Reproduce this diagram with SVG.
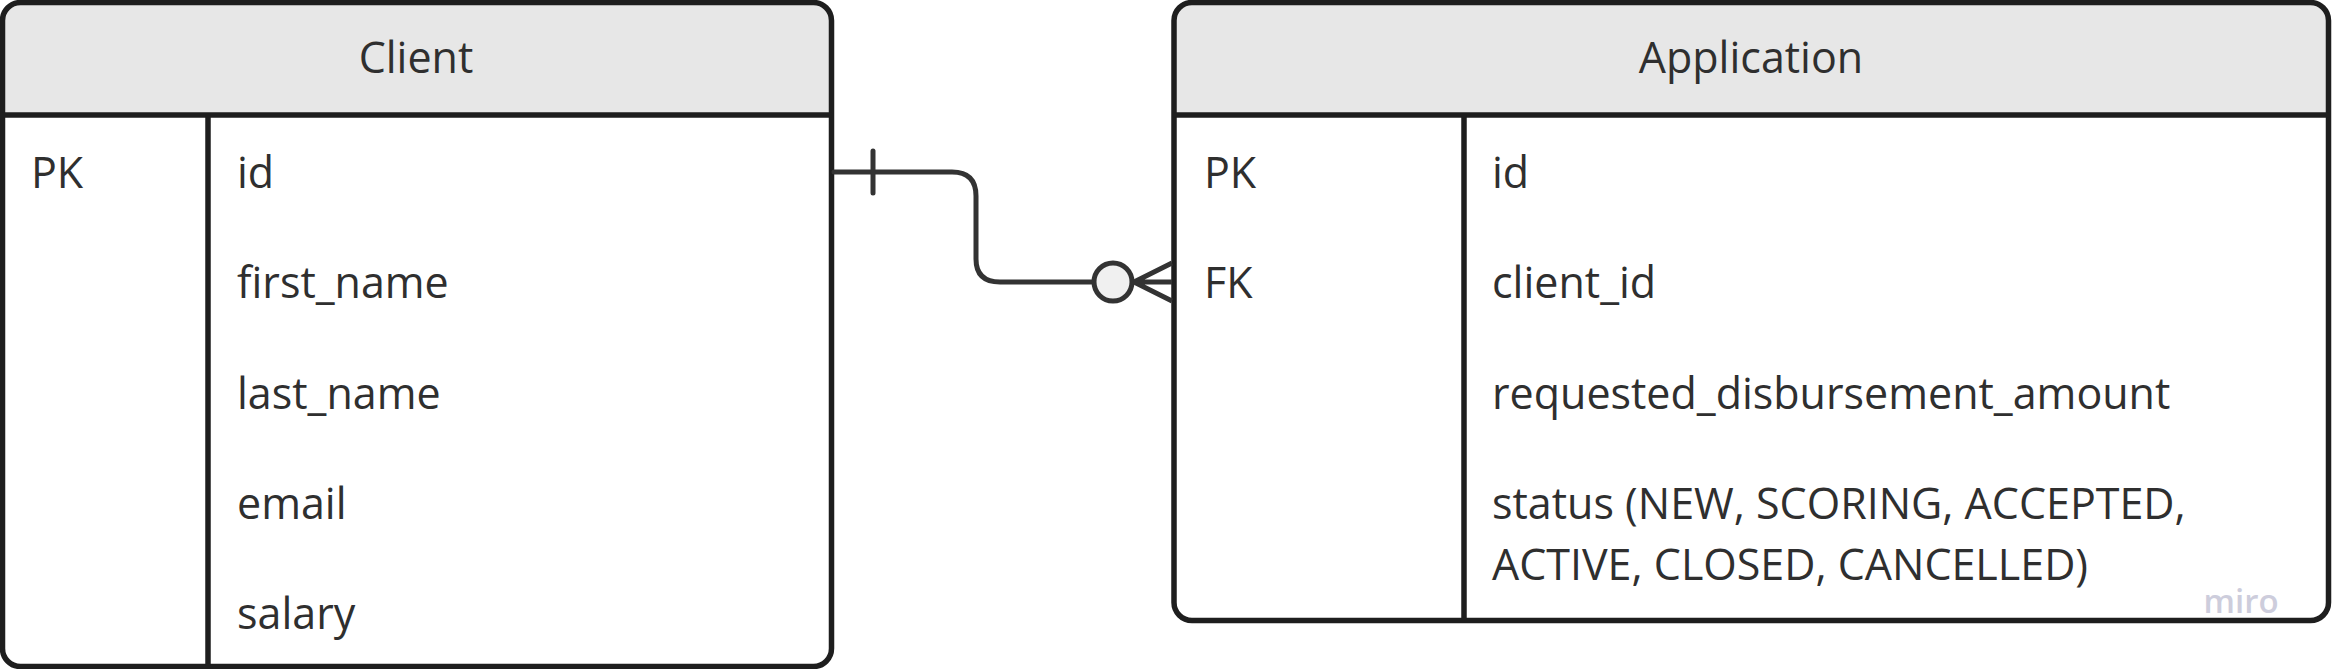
<svg xmlns="http://www.w3.org/2000/svg" width="2333" height="669" viewBox="0 0 2333 669">
<style>
.box{fill:none;stroke:#1e1e1e;stroke-width:5.5}
.hdr{fill:#e7e7e7}
.ln{stroke:#1e1e1e;stroke-width:5.5;fill:none}
.t{font-family:"Open Sans","Noto Sans",sans-serif;font-size:43px;fill:#2f2f2f}
.ttl{text-anchor:middle}
.c{stroke:#333;stroke-width:5;fill:none;stroke-linecap:round}
</style>
<g id="client">
<path class="hdr" d="M2.5 115 V20 Q2.5 2.5 20 2.5 H814 Q831.5 2.5 831.5 20 V115 Z"/>
<rect class="box" x="2.5" y="2.5" width="829" height="664" rx="18"/>
<line class="ln" x1="2.5" y1="115" x2="831.5" y2="115"/>
<line class="ln" x1="208" y1="115" x2="208" y2="666"/>
<text class="t ttl" x="416" y="73">Client</text>
<text class="t" x="31" y="188">PK</text>
<text class="t" x="237" y="188">id</text>
<text class="t" x="237" y="298">first_name</text>
<text class="t" x="237" y="409">last_name</text>
<text class="t" x="237" y="519">email</text>
<text class="t" x="237" y="629">salary</text>
</g>
<g id="application">
<path class="hdr" d="M1174 115 V20 Q1174 2.5 1191.5 2.5 H2311 Q2328.5 2.5 2328.5 20 V115 Z"/>
<rect class="box" x="1174" y="2.5" width="1154.5" height="618" rx="18"/>
<line class="ln" x1="1174" y1="115" x2="2328.5" y2="115"/>
<line class="ln" x1="1464" y1="115" x2="1464" y2="620"/>
<text class="t ttl" x="1751" y="73">Application</text>
<text class="t" x="1204" y="188">PK</text>
<text class="t" x="1204" y="298">FK</text>
<text class="t" x="1492" y="188">id</text>
<text class="t" x="1492" y="298">client_id</text>
<text class="t" x="1492" y="409">requested_disbursement_amount</text>
<text class="t" x="1492" y="519">status (NEW, SCORING, ACCEPTED,</text>
<text class="t" x="1492" y="580">ACTIVE, CLOSED, CANCELLED)</text>
<text x="2241" y="613" style="font-family:'Open Sans',sans-serif;font-size:33px;font-weight:600;fill:#cdcddc;text-anchor:middle">miro</text>
</g>
<g id="connectors">
<path class="c" d="M834 172 H952 Q976 172 976 196 V259 Q976 282 1000 282 H1093"/>
<line class="c" x1="873" y1="151" x2="873" y2="193"/>
<circle cx="1113" cy="282" r="19" fill="#f0f0f0" stroke="#333" stroke-width="5"/>
<path class="c" d="M1134 282 L1172 263 M1134 282 H1172 M1134 282 L1172 301" style="stroke-linecap:butt"/>
</g>
</svg>
